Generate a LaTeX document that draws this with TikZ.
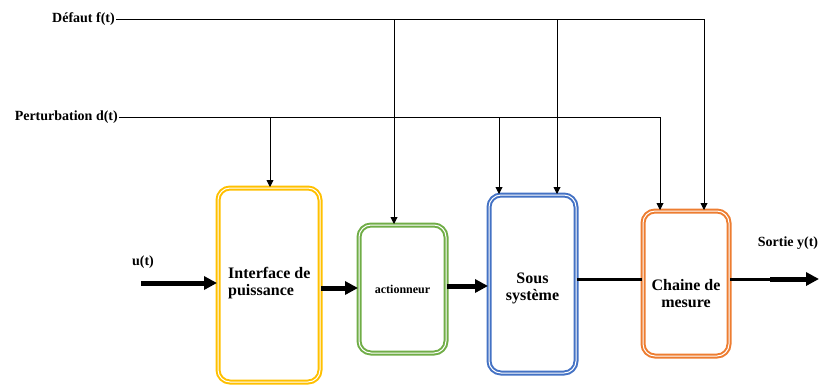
\documentclass[tikz,border=0pt]{standalone}
\usepackage{fontspec}
\setmainfont{Liberation Serif}
\usetikzlibrary{arrows.meta}
\definecolor{cYellow}{HTML}{FFC000}
\definecolor{cGreen}{HTML}{70AD47}
\definecolor{cBlue}{HTML}{4472C4}
\definecolor{cOrange}{HTML}{ED7D31}
\tikzset{
  block/.style={draw=#1, line width=2pt, double=white, double distance=1pt,
    rounded corners=12pt, inner sep=0pt},
  btxt/.style={align=center, inner sep=1pt,
    font=\fontsize{16}{17}\selectfont\bfseries},
  lbl/.style={font=\fontsize{14}{16}\selectfont\bfseries, inner sep=1pt},
  sig/.style={line width=0.9pt, -{Triangle[length=7pt,width=7pt]}},
  bus/.style={line width=0.9pt},
  big/.style={line width=5pt, -{Triangle[length=13pt,width=13pt]}},
  link/.style={line width=3pt}
}
\begin{document}
\begin{tikzpicture}[x=1pt,y=-1pt]
\useasboundingbox (0,0) rectangle (826,386);

% blocks of the chain
\node[block=cYellow, minimum width=102pt, minimum height=194pt] (itf) at (269,285) {};
\node[block=cGreen, minimum width=87pt, minimum height=128pt] (act) at (402.5,289) {};
\node[block=cBlue, minimum width=87pt, minimum height=178pt] (sous) at (532.5,284) {};
\node[block=cOrange, minimum width=86pt, minimum height=145pt] (chm) at (686,283.5) {};

% block captions
\node[btxt, align=left, anchor=west] (itfT) at (227,283) {Interface de\\puissance};
\node[btxt, font=\fontsize{12}{14}\selectfont\bfseries] (actT) at (402.5,289) {actionneur};
\node[btxt] (sousT) at (532.5,288) {Sous\\syst\`eme};
\node[btxt] (chmT) at (686,294) {Chaine de\\mesure};

% input and output labels
\node[lbl, anchor=east] (fl) at (116,19) {D\'efaut f(t)};
\node[lbl, anchor=east] (dl) at (119,117) {Perturbation d(t)};
\node[lbl] (ul) at (143,262) {u(t)};
\node[lbl] (yl) at (788,243) {Sortie y(t)};

% taps on the fault and disturbance lines
\coordinate (f1) at (394,19);
\coordinate (f2) at (557,19);
\coordinate (f3) at (704,19);
\coordinate (d1) at (270,117);
\coordinate (d2) at (499,117);
\coordinate (d3) at (660,117);

\draw[bus] (fl.east) -- (f3);
\draw[bus] (dl.east) -- (d3);
\draw[sig] (f1) -- (f1 |- act.north);
\draw[sig] (f2) -- (f2 |- sous.north);
\draw[sig] (f3) -- (f3 |- chm.north);
\draw[sig] (d1) -- (d1 |- itf.north);
\draw[sig] (d2) -- (d2 |- sous.north);
\draw[sig] (d3) -- (d3 |- chm.north);

% main signal path
\coordinate (uin) at (141,283);
\coordinate (yout) at (819,279);
\draw[big] (uin) -- (uin -| itf.west);
\draw[big] (itf.east |- 0,288) -- (act.west |- 0,288);
\draw[big] (act.east |- 0,286) -- (sous.west |- 0,286);
\draw[link] (sous.east |- 0,279) -- (chm.west |- 0,279);
\draw[link] (chm.east |- 0,279) -- (770,279);
\draw[big] (770,279) -- (yout);
\end{tikzpicture}
\end{document}
